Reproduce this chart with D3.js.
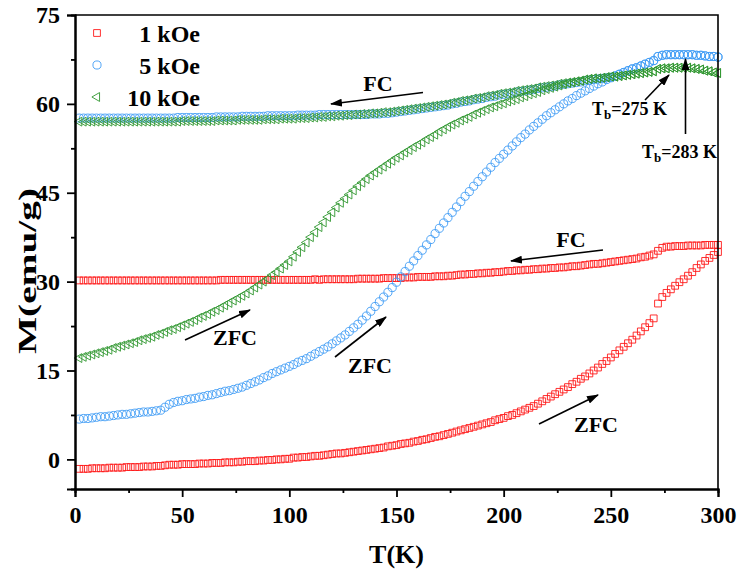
<!DOCTYPE html>
<html><head><meta charset="utf-8">
<script src="https://cdn.jsdelivr.net/npm/d3@7"></script>
<style>
body{margin:0;background:#fff}
svg{display:block}
text{font-family:"Liberation Serif","Times New Roman",serif;font-weight:bold;fill:#000}
</style>
</head><body>
<svg id="chart" width="743" height="573"></svg>
<script>
// ---- data ----
const temps = [2,4,6,8,10,12,14,16,18,20,22,24,26,28,30,32,34,36,38,40,42,44,46,48,50,52,54,56,58,60,
62,64,66,68,70,72,74,76,78,80,82,84,86,88,90,92,94,96,98,100,102,104,106,108,110,112,114,116,118,120,
122,124,126,128,130,132,134,136,138,140,142,144,146,148,150,152,154,156,158,160,162,164,166,168,170,172,174,176,178,180,
182,184,186,188,190,192,194,196,198,200,202,204,206,208,210,212,214,216,218,220,222,224,226,228,230,232,234,236,238,240,
242,244,246,248,250,252,254,256,258,260,262,264,266,268,270,272,274,276,278,280,282,284,286,288,290,292,294,296,298,300];

const fc1k = [30.2,30.2,30.2,30.2,30.2,30.2,30.2,30.2,30.2,30.2, 30.2,30.2,30.2,30.2,30.2,30.2,30.2,30.2,30.2,30.2,
30.2,30.2,30.2,30.2,30.2,30.2,30.2,30.2,30.2,30.2, 30.2,30.2,30.2,30.3,30.3,30.3,30.3,30.3,30.3,30.3,
30.3,30.3,30.3,30.3,30.3,30.3,30.3,30.3,30.3,30.3, 30.3,30.3,30.3,30.3,30.3,30.4,30.3,30.4,30.4,30.4,
30.4,30.4,30.4,30.4,30.4,30.5,30.5,30.5,30.5,30.5, 30.5,30.6,30.6,30.6,30.6,30.6,30.7,30.7,30.7,30.8,
30.8,30.8,30.8,30.9,30.9,30.9,31.0,31.0,31.1,31.2, 31.2,31.3,31.3,31.4,31.4,31.5,31.5,31.6,31.6,31.7,
31.8,31.8,31.9,31.9,32.0,32.0,32.1,32.1,32.2,32.2, 32.3,32.3,32.4,32.4,32.5,32.6,32.6,32.7,32.8,32.9,
33.0,33.0,33.1,33.2,33.3,33.4,33.5,33.6,33.7,33.8, 33.9,34.1,34.2,34.4,34.6,35.2,35.7,35.9,35.9,36.0,
36.0,36.0,36.1,36.1,36.1,36.1,36.2,36.2,36.2,36.2];

const zfc1k = [-1.6,-1.6,-1.6,-1.5,-1.5,-1.5,-1.5,-1.4,-1.4,-1.4, -1.4,-1.3,-1.3,-1.3,-1.3,-1.2,-1.2,-1.2,-1.1,-1.1,
-1.0,-0.9,-0.9,-0.9,-0.8,-0.8,-0.8,-0.8,-0.7,-0.7, -0.7,-0.6,-0.6,-0.6,-0.5,-0.5,-0.5,-0.4,-0.4,-0.3,
-0.3,-0.3,-0.2,-0.2,-0.1,-0.1,0.0,0.0,0.1,0.1, 0.3,0.3,0.4,0.4,0.5,0.6,0.6,0.7,0.8,0.9,
1.0,1.0,1.1,1.2,1.3,1.4,1.5,1.6,1.7,1.8, 1.9,2.0,2.2,2.3,2.4,2.6,2.7,2.8,3.0,3.1,
3.3,3.4,3.6,3.8,3.9,4.1,4.3,4.5,4.7,4.9, 5.1,5.3,5.5,5.7,5.9,6.1,6.3,6.6,6.8,7.0,
7.3,7.5,7.8,8.1,8.4,8.7,9.0,9.4,9.8,10.2, 10.6,11.0,11.4,11.8,12.2,12.7,13.1,13.6,14.0,14.5,
15.0,15.5,16.1,16.6,17.2,17.8,18.4,19.0,19.6,20.2, 20.9,21.6,22.3,23.0,23.8,26.3,27.4,28.1,28.7,29.3,
29.9,30.4,31.0,31.6,32.3,32.9,33.5,34.0,34.5,35.0];

const fc5k = [57.6,57.6,57.6,57.6,57.6,57.6,57.6,57.6,57.6,57.6, 57.6,57.6,57.6,57.6,57.6,57.6,57.6,57.6,57.6,57.6,
57.6,57.6,57.6,57.7,57.7,57.7,57.7,57.7,57.7,57.7, 57.7,57.7,57.8,57.8,57.8,57.8,57.8,57.8,57.9,57.9,
57.9,57.9,57.9,57.9,58.0,58.0,58.0,58.0,58.0,58.0, 58.0,58.1,58.1,58.1,58.1,58.1,58.2,58.2,58.2,58.2,
58.2,58.2,58.2,58.2,58.2,58.2,58.2,58.2,58.3,58.3, 58.3,58.4,58.4,58.5,58.6,58.7,58.8,58.9,59.0,59.1,
59.2,59.3,59.4,59.5,59.6,59.7,59.8,60.0,60.1,60.3, 60.4,60.5,60.7,60.8,60.9,61.1,61.2,61.3,61.5,61.6,
61.7,61.8,62.0,62.1,62.2,62.3,62.4,62.6,62.7,62.8, 62.9,63.0,63.2,63.3,63.4,63.5,63.6,63.7,63.9,64.0,
64.1,64.2,64.3,64.4,64.5,64.7,65.0,65.3,65.6,65.9, 66.1,66.4,66.7,67.0,67.3,68.0,68.2,68.3,68.3,68.3,
68.3,68.3,68.3,68.3,68.2,68.2,68.1,68.0,68.0,67.9];

const zfc5k = [6.8,6.9,6.9,7.0,7.1,7.2,7.2,7.3,7.4,7.5, 7.6,7.6,7.7,7.8,7.9,8.0,8.0,8.1,8.2,8.3,
8.8,9.3,9.6,9.8,9.9,10.1,10.2,10.3,10.5,10.6, 10.8,10.9,11.1,11.3,11.5,11.6,11.8,12.0,12.2,12.5,
12.8,13.1,13.4,13.8,14.1,14.5,14.8,15.1,15.4,15.7, 16.0,16.4,16.7,17.0,17.4,17.8,18.2,18.6,19.0,19.5,
20.0,20.5,21.0,21.6,22.2,22.8,23.5,24.2,25.0,25.8, 26.6,27.4,28.2,29.0,29.9,30.8,31.7,32.6,33.5,34.4,
35.3,36.2,37.1,38.1,39.0,39.9,40.8,41.7,42.6,43.5, 44.4,45.2,46.1,46.9,47.7,48.5,49.3,50.1,50.8,51.5,
52.2,52.9,53.6,54.3,54.9,55.6,56.2,56.8,57.4,58.0, 58.5,59.0,59.5,60.0,60.5,60.9,61.4,61.8,62.2,62.6,
63.0,63.4,63.7,64.1,64.4,64.7,65.0,65.3,65.6,65.9, 66.1,66.4,66.7,67.0,67.3,68.0,68.2,68.3,68.3,68.3,
68.3,68.3,68.3,68.3,68.2,68.2,68.1,68.0,68.0,67.9];

const fc10k = [57.0,57.0,57.0,57.0,57.0,57.0,57.0,57.0,57.0,57.0, 57.0,57.0,57.0,57.0,57.0,57.0,57.0,57.0,57.0,57.0,
57.0,57.0,57.0,57.0,57.1,57.1,57.1,57.1,57.1,57.1, 57.1,57.1,57.2,57.2,57.2,57.2,57.2,57.3,57.3,57.3,
57.3,57.3,57.3,57.4,57.4,57.4,57.4,57.5,57.5,57.5, 57.5,57.6,57.6,57.6,57.7,57.7,57.8,57.8,57.9,57.9,
58.0,58.0,58.1,58.1,58.2,58.2,58.3,58.3,58.4,58.4, 58.5,58.6,58.6,58.7,58.8,58.9,59.0,59.1,59.2,59.3,
59.4,59.5,59.6,59.7,59.8,59.9,60.0,60.2,60.3,60.5, 60.6,60.7,60.9,61.0,61.1,61.3,61.4,61.5,61.7,61.8,
61.9,62.0,62.2,62.3,62.4,62.5,62.6,62.8,62.9,63.0, 63.1,63.2,63.4,63.5,63.6,63.7,63.8,63.9,64.1,64.2,
64.3,64.3,64.4,64.5,64.6,64.6,64.7,64.8,64.9,65.0, 65.1,65.2,65.3,65.4,65.5,65.9,66.0,66.0,66.1,66.1,
66.1,66.1,66.1,66.0,65.9,65.8,65.6,65.5,65.3,65.2];

const zfc10k = [17.1,17.3,17.5,17.7,17.9,18.1,18.3,18.5,18.8,19.0, 19.2,19.4,19.6,19.8,20.1,20.3,20.5,20.7,21.0,21.2,
21.5,21.8,22.0,22.3,22.6,22.9,23.2,23.5,23.9,24.2, 24.5,24.9,25.2,25.6,26.0,26.4,26.8,27.2,27.6,28.0,
28.5,29.0,29.5,30.0,30.5,31.1,31.6,32.2,32.8,33.4, 34.2,35.0,35.8,36.6,37.5,38.3,39.2,40.0,40.9,41.7,
42.5,43.3,44.0,44.7,45.4,46.1,46.7,47.3,47.9,48.4, 48.9,49.4,49.9,50.4,50.9,51.3,51.8,52.2,52.7,53.1,
53.5,54.0,54.4,54.8,55.3,55.7,56.1,56.5,56.8,57.2, 57.5,57.8,58.2,58.5,58.8,59.1,59.4,59.6,59.9,60.1,
60.4,60.6,60.8,61.1,61.3,61.6,61.8,62.0,62.3,62.5, 62.7,62.9,63.1,63.3,63.5,63.6,63.8,63.9,64.1,64.2,
64.3,64.3,64.4,64.5,64.6,64.6,64.7,64.8,64.9,65.0, 65.1,65.2,65.3,65.4,65.5,65.9,66.0,66.0,66.1,66.1,
66.1,66.1,66.1,66.0,65.9,65.8,65.6,65.5,65.3,65.2];

const legendLabels = ["1 kOe", "5 kOe", "10 kOe"];
const xTicks = [0, 50, 100, 150, 200, 250, 300];
const xMinor = [25, 75, 125, 175, 225, 275];
const yTicks = [0, 15, 30, 45, 60, 75];
const yMinor = [7.5, 22.5, 37.5, 52.5, 67.5];

// ---- layout ----
const svg = d3.select("#chart");
const L = 75, R = 718, T = 15, B = 489;
const x = d3.scaleLinear().domain([0, 300]).range([L, R]);
const y = d3.scaleLinear().domain([-5, 75]).range([B, T]);

const RED = "#ff1a1a", BLUE = "#3f9cf5", GREEN = "#2f962f";
const sq = d3.symbol().type(d3.symbolSquare).size(46)();
const ci = d3.symbol().type(d3.symbolCircle).size(52)();
const tr = d3.symbol().type(d3.symbolTriangle).size(34)();

const series = [
  {vals: fc1k, color: RED, path: sq, rot: 0},
  {vals: zfc1k, color: RED, path: sq, rot: 0},
  {vals: fc5k, color: BLUE, path: ci, rot: 0},
  {vals: zfc5k, color: BLUE, path: ci, rot: 0},
  {vals: fc10k, color: GREEN, path: tr, rot: -90},
  {vals: zfc10k, color: GREEN, path: tr, rot: -90}
];

const plot = svg.append("g");
series.forEach(s => {
  plot.append("g").selectAll("path")
    .data(temps.map((t, i) => [t, s.vals[i]]))
    .join("path")
    .attr("d", s.path)
    .attr("transform", d => `translate(${x(d[0])},${y(d[1])}) rotate(${s.rot})`)
    .attr("fill", "none")
    .attr("stroke", s.color)
    .attr("stroke-width", 0.9);
});

// frame (top, right)
svg.append("path").attr("d", `M${L},${T}H${R}V${B}`).attr("fill", "none").attr("stroke", "#000").attr("stroke-width", 1.6);

// axes
const fs = 24;
svg.append("g").attr("transform", `translate(0,${B})`)
  .call(d3.axisBottom(x).tickValues(xTicks).tickSize(8).tickPadding(9).tickFormat(d3.format("d")));
svg.append("g").attr("transform", `translate(0,${B})`)
  .call(d3.axisBottom(x).tickValues(xMinor).tickSize(4).tickFormat(""));
svg.append("g").attr("transform", `translate(${L},0)`)
  .call(d3.axisLeft(y).tickValues(yTicks).tickSize(8).tickPadding(7).tickFormat(d3.format("d")));
svg.append("g").attr("transform", `translate(${L},0)`)
  .call(d3.axisLeft(y).tickValues(yMinor).tickSize(4).tickFormat(""));
svg.selectAll(".domain").attr("stroke", "#000").attr("stroke-width", 2);
svg.selectAll(".tick line").attr("stroke", "#000").attr("stroke-width", 1.8);
svg.selectAll(".tick text").style("font-family", '"Liberation Serif",serif')
  .style("font-weight", "bold").style("font-size", fs + "px").attr("fill", "#000");

// axis titles
svg.append("text").attr("x", (L + R) / 2).attr("y", 563).attr("text-anchor", "middle")
  .style("font-size", "26px").text("T(K)");
svg.append("text").attr("transform", "translate(36,271) rotate(-90)").attr("text-anchor", "middle")
  .attr("textLength", 166).attr("lengthAdjust", "spacingAndGlyphs")
  .style("font-size", "26px").text("M(emu/g)");

// legend
const lg = svg.append("g");
[[sq, RED, 0], [ci, BLUE, 0], [tr, GREEN, -90]].forEach((m, i) => {
  const cy = 33 + i * 32;
  lg.append("path").attr("d", m[0]).attr("transform", `translate(97,${cy}) rotate(${m[2]})`)
    .attr("fill", "none").attr("stroke", m[1]).attr("stroke-width", 0.9);
  lg.append("text").attr("x", 200).attr("y", cy + 8.5).attr("text-anchor", "end")
    .style("font-size", "24px").text(legendLabels[i]);
});

// arrows & annotations
const defs = svg.append("defs");
defs.append("marker").attr("id", "ah").attr("viewBox", "0 0 12 8").attr("refX", 11).attr("refY", 4)
  .attr("markerWidth", 12).attr("markerHeight", 8).attr("markerUnits", "userSpaceOnUse").attr("orient", "auto")
  .append("path").attr("d", "M0,0L12,4L0,8Z").attr("fill", "#000");
function arrow(x1, y1, x2, y2) {
  svg.append("line").attr("x1", x1).attr("y1", y1).attr("x2", x2).attr("y2", y2)
    .attr("stroke", "#000").attr("stroke-width", 1.6).attr("marker-end", "url(#ah)");
}
function label(txt, cx, by, size) {
  svg.append("text").attr("x", cx).attr("y", by).attr("text-anchor", "middle").style("font-size", size + "px").text(txt);
}
arrow(423, 92.5, 331, 104);  label("FC", 378, 91, 22);
arrow(603, 250, 511, 261);   label("FC", 571, 247, 22);
arrow(185, 340, 250, 310);   label("ZFC", 235, 345, 22);
arrow(335, 357, 386, 317);   label("ZFC", 370, 373, 22);
arrow(539, 424, 598, 395);   label("ZFC", 596, 432, 22);

function tb(x0, by, val) {
  const t = svg.append("text").attr("x", x0).attr("y", by).style("font-size", "18px");
  t.append("tspan").text("T");
  t.append("tspan").attr("dy", 4).style("font-size", "13px").text("b");
  t.append("tspan").attr("dy", -4).text("=" + val + " K");
}
tb(592, 115, 275); arrow(645, 100, 669, 75);
tb(642, 158, 283); arrow(685.5, 134, 685.5, 59);
</script>
</body></html>
